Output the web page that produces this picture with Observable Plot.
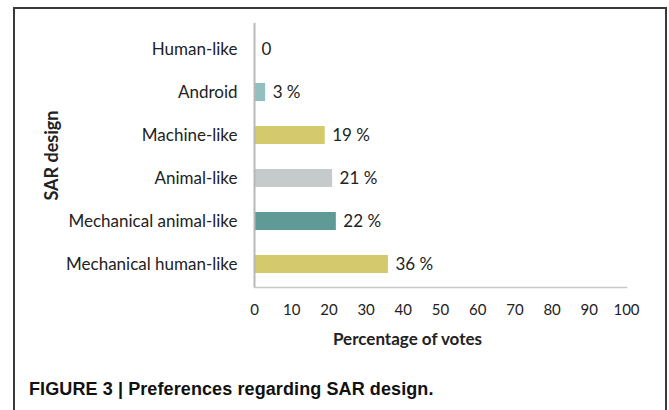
<!DOCTYPE html>
<html>
<head>
<meta charset="utf-8">
<script src="https://cdn.jsdelivr.net/npm/d3@7"></script>
<script src="https://cdn.jsdelivr.net/npm/@observablehq/plot@0.6"></script>
<style>
  html, body { margin: 0; padding: 0; background: #fff; }
  #wrap { position: relative; width: 669px; height: 410px; overflow: hidden; background: #fff; }
  #border { position: absolute; left: 13px; top: 7px; width: 654px; height: 420px; border: 2px solid #3a3a3a; box-sizing: border-box; }
  #chart { position: absolute; left: 0; top: 0; }
  #caption { position: absolute; left: 29px; top: 379px; font-family: "Liberation Sans", Arial, sans-serif; font-weight: bold; font-size: 18px; color: #111; white-space: nowrap; letter-spacing: 0.1px; }
</style>
</head>
<body>
<div id="wrap">
  <div id="border"></div>
  <div id="chart"></div>
  <div id="caption">FIGURE 3 | Preferences regarding SAR design.</div>
</div>
<script>
const categories = ["Human-like", "Android", "Machine-like", "Animal-like", "Mechanical animal-like", "Mechanical human-like"];
const values = [0, 3, 19, 21, 22, 36];
const valueLabels = ["0", "3 %", "19 %", "21 %", "22 %", "36 %"];
const barColors = ["#93bfbf", "#93bfbf", "#d4c96c", "#c5cbca", "#5f9a96", "#d4c96c"];
const xTicks = [0, 10, 20, 30, 40, 50, 60, 70, 80, 90, 100];

const data = categories.map((c, i) => ({cat: c, value: values[i], label: valueLabels[i], color: barColors[i]}));

const font = "Lato, 'Open Sans', sans-serif";

const plot = Plot.plot({
  width: 669,
  height: 360,
  marginLeft: 254,
  marginRight: 43,
  marginTop: 23,
  marginBottom: 73,
  style: {fontFamily: font, fontSize: "17px", color: "#222", background: "transparent"},
  x: {domain: [0, 100]},
  y: {domain: categories, range: [26, 287], paddingInner: 0.59, paddingOuter: 0.295},
  marks: [
    Plot.frame({anchor: "bottom", stroke: "#c8c8c8", strokeWidth: 1.5}),
    Plot.barX(data, {x: "value", y: "cat", fill: "color"}),
    Plot.ruleX([0], {stroke: "#b8b8b8", strokeWidth: 2}),
    Plot.text(data, {x: "value", y: "cat", text: "label", textAnchor: "start", dx: 7, fontSize: 17, fill: "#222"}),
    Plot.axisY({tickSize: 0, tickPadding: 17, label: null, fontSize: 17}),
    Plot.axisX({ticks: xTicks, tickSize: 0, tickPadding: 17, label: null, fontSize: 15, tickFormat: d => String(d)}),
    Plot.text(["Percentage of votes"], {frameAnchor: "bottom", dx: -33, dy: 57, fontWeight: "bold", fontSize: 17, fill: "#222"}),
    Plot.text(["SAR design"], {frameAnchor: "left", textAnchor: "middle", dx: -202, rotate: -90, fontWeight: "bold", fontSize: 18, fill: "#222"})
  ]
});
document.getElementById("chart").appendChild(plot);
</script>
</body>
</html>
